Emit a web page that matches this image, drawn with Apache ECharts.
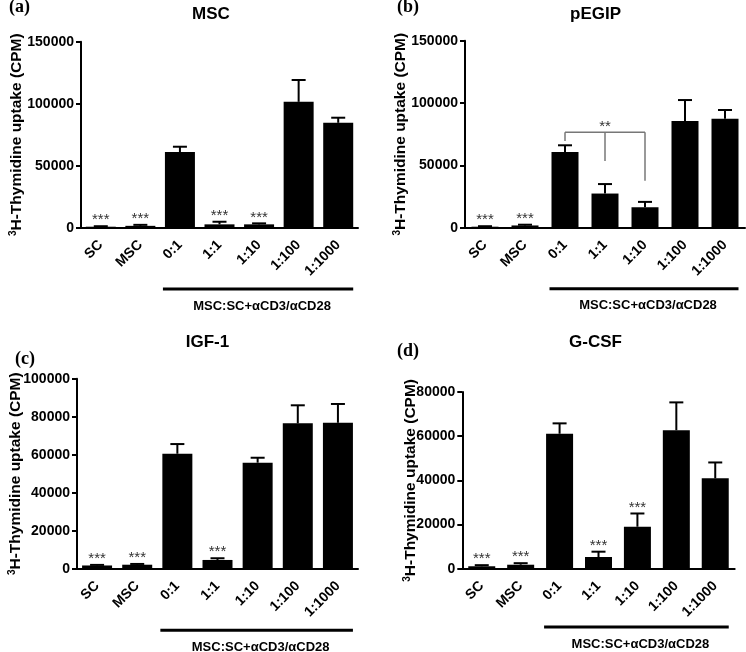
<!DOCTYPE html>
<html><head><meta charset="utf-8">
<script src="https://cdn.jsdelivr.net/npm/echarts@6/dist/echarts.min.js"></script>
<style>html,body{margin:0;padding:0;background:#fff}#c{width:746px;height:652px}</style>
</head><body><div id="c"></div>
<script>
// ---- data ----
const categories = ['SC', 'MSC', '0:1', '1:1', '1:10', '1:100', '1:1000'];
const groupLabel = 'MSC:SC+\u03b1CD3/\u03b1CD28';
const yAxisTitle = '3H-Thymidine uptake (CPM)';

const mscMean  = [800, 1500, 61000, 2700, 2700, 101500, 84600];
const mscErr   = [400, 800, 4300, 2100, 800, 17600, 4100];
const mscStars = ['***', '***', '', '***', '***', '', ''];

const pegipMean  = [800, 1800, 60800, 27400, 16400, 85500, 87400];
const pegipErr   = [400, 600, 5300, 7600, 4300, 16900, 7000];
const pegipStars = ['***', '***', '', '', '', '', ''];
const pegipBracketCats = [2, 3, 4];
const pegipBracketTop = 76500;
const pegipBracketEnds = [69500, 53500, 37700];
const pegipBracketLabel = '**';

const igfMean  = [1700, 2100, 60500, 4600, 55800, 76500, 76800];
const igfErr   = [300, 400, 5100, 900, 2600, 9500, 9900];
const igfStars = ['***', '***', '', '***', '', '', ''];

const gcsfMean  = [1100, 1800, 61100, 5300, 19000, 62700, 40900];
const gcsfErr   = [500, 700, 4700, 2400, 6000, 12600, 7200];
const gcsfStars = ['***', '***', '', '***', '***', '', ''];

const panelTitles = ['MSC', 'pEGIP', 'IGF-1', 'G-CSF'];
const panelLetters = ['(a)', '(b)', '(c)', '(d)'];
const yMax = [150000, 150000, 100000, 80000];
const yInterval = [50000, 50000, 20000, 20000];

// ---- layout ----
const SANS = '"Liberation Sans", Arial, sans-serif';
const SERIF = '"Liberation Serif", "Times New Roman", serif';
const grids = [
  {left: 81, top: 41.7, width: 277, height: 186},
  {left: 465, top: 40.7, width: 280, height: 187},
  {left: 77, top: 378.7, width: 281, height: 190},
  {left: 462.3, top: 392, width: 272.4, height: 176.7}
];
const barW = [30, 27, 30, 27];
const nameGaps = [56, 56, 53, 43];
const titlePos = [[211, 14], [595.5, 14], [207.5, 342.7], [595.5, 342.7]];
const letterPos = [[9, 7], [397, 7], [15, 359], [397, 351]];
const underOffset = [61.3, 61, 61.6, 58.3];

const means = [mscMean, pegipMean, igfMean, gcsfMean];
const errs = [mscErr, pegipErr, igfErr, gcsfErr];
const stars = [mscStars, pegipStars, igfStars, gcsfStars];

const xAxes = [], yAxes = [], series = [], graphics = [];
for (let p = 0; p < 4; p++) {
  xAxes.push({
    type: 'category', gridIndex: p, data: categories, boundaryGap: true,
    axisLine: {lineStyle: {color: '#000', width: 2}},
    axisTick: {alignWithLabel: true, length: 5, lineStyle: {color: '#000', width: 2}},
    axisLabel: {rotate: 45, margin: 15, color: '#000', fontWeight: 'bold', fontSize: 14, fontFamily: SANS, interval: 0}
  });
  yAxes.push({
    type: 'value', gridIndex: p, min: 0, max: yMax[p], interval: yInterval[p],
    splitLine: {show: false},
    axisLine: {show: true, lineStyle: {color: '#000', width: 2}},
    axisTick: {show: true, length: 5, lineStyle: {color: '#000', width: 2}},
    axisLabel: {margin: 7, color: '#000', fontWeight: 'bold', fontSize: 14, fontFamily: SANS, formatter: v => String(v)},
    name: '{sup|3}{n|' + yAxisTitle.slice(1) + '}',
    nameLocation: 'middle', nameRotate: 90, nameGap: nameGaps[p], nameMoveOverlap: false,
    nameTextStyle: {
      rich: {
        sup: {fontSize: 10, fontWeight: 'bold', fontFamily: SANS, color: '#000', verticalAlign: 'top', lineHeight: 17},
        n: {fontSize: 15.5, fontWeight: 'bold', fontFamily: SANS, color: '#000', lineHeight: 17}
      }
    }
  });
  series.push({
    type: 'bar', xAxisIndex: p, yAxisIndex: p, barWidth: barW[p],
    itemStyle: {color: '#000'}, data: means[p], silent: true
  });
  const st = stars[p];
  series.push({
    type: 'custom', xAxisIndex: p, yAxisIndex: p, clip: false, z: 5, silent: true,
    encode: {x: 0, y: 1},
    data: means[p].map((m, i) => [i, m, errs[p][i]]),
    renderItem: function (params, api) {
      const i = api.value(0), m = api.value(1), e = api.value(2);
      const b = api.coord([i, m]);
      const t = api.coord([i, m + e]);
      const ch = [
        {type: 'line', shape: {x1: b[0], y1: b[1], x2: t[0], y2: t[1]}, style: {stroke: '#000', lineWidth: 2}},
        {type: 'line', shape: {x1: t[0] - 7, y1: t[1], x2: t[0] + 7, y2: t[1]}, style: {stroke: '#000', lineWidth: 2}}
      ];
      const s = st[params.dataIndex];
      if (s) ch.push({type: 'text', x: t[0], y: t[1] - 6, style: {text: s, align: 'center', verticalAlign: 'middle', font: '15px ' + SANS, fill: '#333'}});
      return {type: 'group', children: ch};
    }
  });
  const bw = barW[p], off = underOffset[p];
  series.push({
    type: 'custom', xAxisIndex: p, yAxisIndex: p, clip: false, silent: true,
    encode: {x: 0, y: 1},
    data: [[2, 0, 6]],
    renderItem: function (params, api) {
      const a = api.coord([api.value(0), 0]);
      const c = api.coord([api.value(2), 0]);
      const x1 = a[0] - bw / 2 - 2, x2 = c[0] + bw / 2;
      const y = a[1] + off;
      return {type: 'group', children: [
        {type: 'line', shape: {x1: x1, y1: y, x2: x2, y2: y}, style: {stroke: '#000', lineWidth: 3}},
        {type: 'text', x: (x1 + x2) / 2 + 4, y: y + 17, style: {text: groupLabel, align: 'center', verticalAlign: 'middle', font: 'bold 13px ' + SANS, fill: '#000'}}
      ]};
    }
  });
  graphics.push({type: 'text', x: titlePos[p][0], y: titlePos[p][1], style: {text: panelTitles[p], align: 'center', verticalAlign: 'middle', font: 'bold 17px ' + SANS, fill: '#000'}});
  graphics.push({type: 'text', x: letterPos[p][0], y: letterPos[p][1], style: {text: panelLetters[p], align: 'left', verticalAlign: 'middle', font: 'bold 18px ' + SERIF, fill: '#000'}});
}

// significance bracket in panel (b)
series.push({
  type: 'custom', xAxisIndex: 1, yAxisIndex: 1, clip: false, silent: true, z: 6,
  encode: {x: 0, y: 1},
  data: [[pegipBracketCats[0], pegipBracketTop]],
  renderItem: function (params, api) {
    const L = api.coord([pegipBracketCats[0], pegipBracketTop]);
    const R = api.coord([pegipBracketCats[pegipBracketCats.length - 1], pegipBracketTop]);
    const ch = [{type: 'line', shape: {x1: L[0], y1: L[1], x2: R[0], y2: R[1]}, style: {stroke: '#777', lineWidth: 1.5}}];
    pegipBracketCats.forEach((c, k) => {
      const top = api.coord([c, pegipBracketTop]);
      const end = api.coord([c, pegipBracketEnds[k]]);
      ch.push({type: 'line', shape: {x1: top[0], y1: top[1], x2: end[0], y2: end[1]}, style: {stroke: '#777', lineWidth: 1.5}});
    });
    const mid = api.coord([pegipBracketCats[1], pegipBracketTop]);
    ch.push({type: 'text', x: mid[0], y: mid[1] - 5, style: {text: pegipBracketLabel, align: 'center', verticalAlign: 'middle', font: '15px ' + SANS, fill: '#333'}});
    return {type: 'group', children: ch};
  }
});

const chart = echarts.init(document.getElementById('c'), null, {renderer: 'canvas'});
chart.setOption({
  animation: false,
  backgroundColor: '#fff',
  grid: grids.map(g => Object.assign({containLabel: false, outerBoundsMode: 'none'}, g)),
  xAxis: xAxes,
  yAxis: yAxes,
  series: series,
  graphic: graphics
});
</script>
</body></html>
